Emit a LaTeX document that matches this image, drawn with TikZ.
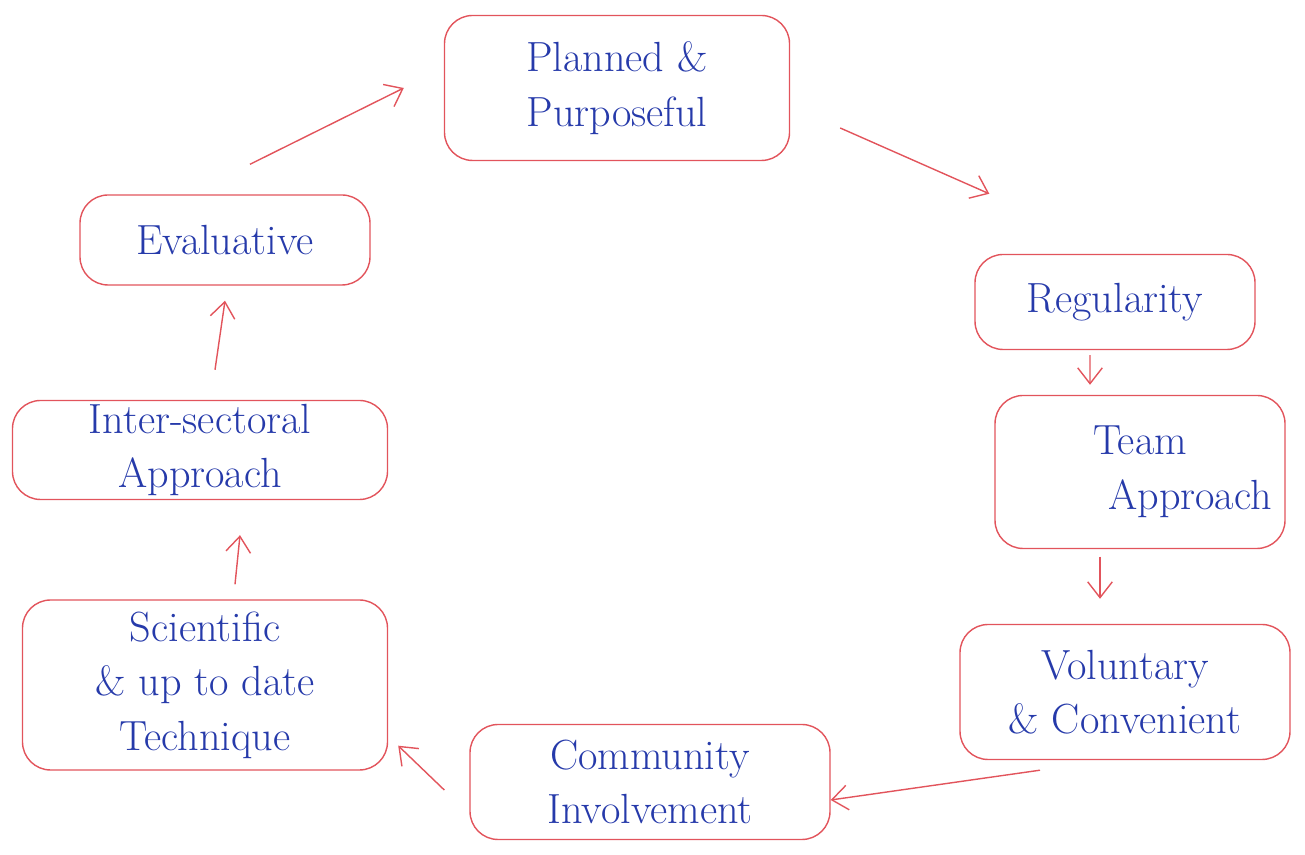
\documentclass[tikz,border=0pt]{standalone}
\usepackage{tikz}
\usetikzlibrary{arrows.meta}
\usetikzlibrary{positioning}
\tikzset{>={Straight Barb[length=9pt,width=14pt]}}
\usepackage{xcolor}
\definecolor{penred}{RGB}{226,84,92}
\definecolor{penblue}{RGB}{38,58,170}
\tikzstyle{cloud}=[thick,draw=penred,text=penblue,align=center,inner sep=2pt,
  rounded corners=16pt,font=\fontsize{24}{31}\selectfont]
\tikzstyle{arr}=[thick,penred,->]

\begin{document}
\begin{tikzpicture}
	\useasboundingbox (0,0) rectangle (26.1,17.1);
	\node[cloud,minimum width=6.9cm,minimum height=2.9cm] (plan) at (12.34,15.34) {Planned \&\\Purposeful};
	\node[cloud,minimum width=5.6cm,minimum height=1.9cm] (reg) at (22.3,11.06) {Regularity};
	\node[cloud,minimum width=5.8cm,minimum height=3.06cm] (team) at (22.8,7.66) {Team\\\hspace*{2cm}Approach};
	\node[cloud,minimum width=6.6cm,minimum height=2.7cm] (vol) at (22.5,3.26) {Voluntary\\\& Convenient};
	\node[cloud,minimum width=7.2cm,minimum height=2.3cm] (comm) at (13.0,1.46) {Community\\Involvement};
	\node[cloud,minimum width=7.3cm,minimum height=3.4cm] (sci) at (4.1,3.4) {Scientific\\\& up to date\\Technique};
	\node[cloud,minimum width=7.5cm,minimum height=1.9cm] (inter) at (4.0,8.1) {Inter-sectoral\\Approach};
	\node[cloud,minimum width=5.8cm,minimum height=1.8cm] (eval) at (4.5,12.3) {Evaluative};
	\draw[arr] ([shift={(0.5,0.6)}]eval.north) -- ([xshift=-0.8cm]plan.west);
	\draw[arr] ([shift={(1,-0.8)}]plan.east) -- ([shift={(0.3,1.2)}]reg.north west);
	\draw[arr] ([shift={(-0.5,-0.1)}]reg.south) -- ([shift={(-1,0.2)}]team.north);
	\draw[arr] ([shift={(-0.8,-0.15)}]team.south) -- ([shift={(-0.5,0.5)}]vol.north);
	\draw[arr] ([shift={(-1.7,-0.2)}]vol.south) -- ([yshift=-0.36cm]comm.east);
	\draw[arr] ([shift={(-0.5,-0.16)}]comm.west) -- ([shift={(0.2,0.5)}]sci.south east);
	\draw[arr] ([shift={(0.6,0.3)}]sci.north) -- ([shift={(0.8,-0.7)}]inter.south);
	\draw[arr] ([shift={(0.3,0.6)}]inter.north) -- ([yshift=-0.3cm]eval.south);
\end{tikzpicture}
\end{document}
